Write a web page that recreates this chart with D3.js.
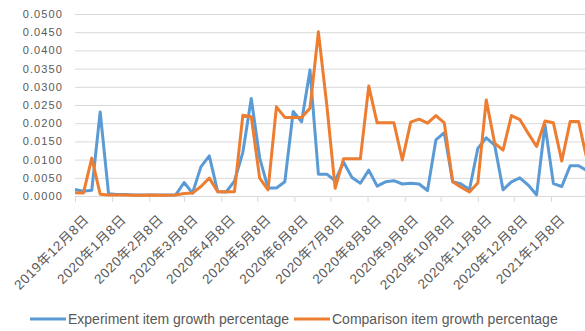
<!DOCTYPE html>
<html>
<head>
<meta charset="utf-8">
<script src="https://cdn.jsdelivr.net/npm/d3@7"></script>
<style>
	body { margin: 0; background: #fff; }
	text { font-family: "Liberation Sans", "Noto Sans CJK SC", sans-serif; fill: #595959; }
</style>
</head>
<body>
<svg class="chart"></svg>
<script>
var weeks = ["2019-12-08","2019-12-15","2019-12-22","2019-12-29","2020-01-05","2020-01-12","2020-01-19","2020-01-26",
	"2020-02-02","2020-02-09","2020-02-16","2020-02-23","2020-03-01","2020-03-08","2020-03-15","2020-03-22",
	"2020-03-29","2020-04-05","2020-04-12","2020-04-19","2020-04-26","2020-05-03","2020-05-10","2020-05-17",
	"2020-05-24","2020-05-31","2020-06-07","2020-06-14","2020-06-21","2020-06-28","2020-07-05","2020-07-12",
	"2020-07-19","2020-07-26","2020-08-02","2020-08-09","2020-08-16","2020-08-23","2020-08-30","2020-09-06",
	"2020-09-13","2020-09-20","2020-09-27","2020-10-04","2020-10-11","2020-10-18","2020-10-25","2020-11-01",
	"2020-11-08","2020-11-15","2020-11-22","2020-11-29","2020-12-06","2020-12-13","2020-12-20","2020-12-27",
	"2021-01-03","2021-01-10","2021-01-17","2021-01-24","2021-01-31","2021-02-07"];

var experiment = [0.0018,0.0013,0.0016,0.0231,0.0006,0.0004,0.0004,0.0003,
	0.0003,0.0003,0.0003,0.0003,0.0003,0.0037,0.0008,0.0080,
	0.0110,0.0012,0.0011,0.0041,0.0120,0.0268,0.0105,0.0022,
	0.0022,0.0039,0.0232,0.0204,0.0346,0.0060,0.0060,0.0042,
	0.0093,0.0051,0.0035,0.0071,0.0027,0.0039,0.0042,0.0033,
	0.0035,0.0033,0.0015,0.0154,0.0174,0.0039,0.0033,0.0018,
	0.0131,0.0160,0.0140,0.0017,0.0039,0.0050,0.0030,0.0003,
	0.0195,0.0034,0.0026,0.0083,0.0083,0.0070];

var comparison = [0.0009,0.0008,0.0104,0.0005,0.0003,0.0003,0.0003,0.0002,
	0.0002,0.0003,0.0002,0.0002,0.0003,0.0007,0.0008,0.0026,
	0.0049,0.0012,0.0012,0.0012,0.0222,0.0218,0.0049,0.0017,
	0.0245,0.0216,0.0216,0.0216,0.0241,0.0451,0.0250,0.0021,
	0.0102,0.0102,0.0102,0.0302,0.0201,0.0201,0.0201,0.0099,
	0.0203,0.0211,0.0200,0.0221,0.0201,0.0039,0.0024,0.0011,
	0.0036,0.0264,0.0145,0.0126,0.0221,0.0210,0.0172,0.0136,
	0.0206,0.0201,0.0096,0.0205,0.0205,0.0100];

var tickDates = ["2019-12-08","2020-01-08","2020-02-08","2020-03-08","2020-04-08","2020-05-08","2020-06-08",
	"2020-07-08","2020-08-08","2020-09-08","2020-10-08","2020-11-08","2020-12-08","2021-01-08"];
var tickLabels = ["2019年12月8日","2020年1月8日","2020年2月8日","2020年3月8日","2020年4月8日","2020年5月8日","2020年6月8日",
	"2020年7月8日","2020年8月8日","2020年9月8日","2020年10月8日","2020年11月8日","2020年12月8日","2021年1月8日"];
var yTicks = [0, 0.005, 0.01, 0.015, 0.02, 0.025, 0.03, 0.035, 0.04, 0.045, 0.05];

var seriesNames = ["Experiment item growth percentage", "Comparison item growth percentage"];
var colors = ["#5b9bd5", "#ed7d31"];

var width = 585,
	height = 331,
	plotLeft = 75,
	plotTop = 14,
	plotBottom = 196;

var parse = d3.timeParse("%Y-%m-%d");

var x = d3.scaleTime()
	.domain([parse(tickDates[0]), parse(tickDates[tickDates.length - 1])])
	.range([plotLeft, 551]);

var y = d3.scaleLinear()
	.domain([0, 0.05])
	.range([plotBottom, plotTop]);

var chart = d3.select(".chart")
	.attr("width", width)
	.attr("height", height);

// gridlines
chart.append("g")
	.attr("class", "grid")
	.attr("transform", "translate(" + plotLeft + ",0)")
	.call(d3.axisLeft(y).tickValues(yTicks).tickSize(-(width - plotLeft)).tickFormat(""))
	.call(function(g) {
		g.select(".domain").remove();
		g.selectAll("line").attr("stroke", "#d9d9d9").attr("stroke-width", 1);
	});

// y labels
chart.append("g")
	.attr("transform", "translate(" + (plotLeft - 12) + ",0)")
	.call(d3.axisLeft(y).tickValues(yTicks).tickSize(0).tickFormat(d3.format(".4f")))
	.call(function(g) {
		g.select(".domain").remove();
		g.selectAll("text")
			.attr("x", 0)
			.style("font-size", "11px")
			.style("letter-spacing", "1.1px")
			.style("fill", "#595959");
	});

// x axis
chart.append("g")
	.attr("transform", "translate(0," + plotBottom + ")")
	.call(d3.axisBottom(x)
		.tickValues(tickDates.map(parse))
		.tickSize(6)
		.tickFormat(function(d, i) { return tickLabels[i]; }))
	.call(function(g) {
		g.select(".domain").attr("stroke", "#d9d9d9").attr("d", "M" + plotLeft + ",0.5H" + width);
		g.selectAll("line").attr("stroke", "#d9d9d9");
		g.selectAll("text")
			.attr("text-anchor", "end")
			.attr("y", 0)
			.attr("dy", "0.35em")
			.attr("transform", "translate(11,21) rotate(-45)")
			.style("font-size", "13.5px")
			.style("letter-spacing", "0.6px")
			.style("fill", "#595959");
	});

var line = d3.line()
	.x(function(d) { return x(d.date); })
	.y(function(d) { return y(d.value); });

[experiment, comparison].forEach(function(values, k) {
	var data = values.map(function(v, i) { return { date: parse(weeks[i]), value: v }; });
	chart.append("path")
		.datum(data)
		.attr("fill", "none")
		.attr("stroke", colors[k])
		.attr("stroke-width", 3)
		.attr("stroke-linejoin", "round")
		.attr("d", line);
});

// legend
var legendX = [30, 294];
var legend = chart.selectAll(".legend")
	.data(seriesNames)
  .enter().append("g")
	.attr("class", "legend")
	.attr("transform", function(d, i) { return "translate(" + legendX[i] + ",319)"; });

legend.append("line")
	.attr("x1", 0)
	.attr("x2", 36)
	.attr("stroke", function(d, i) { return colors[i]; })
	.attr("stroke-width", 3);

legend.append("text")
	.attr("x", 38)
	.attr("dy", "0.35em")
	.style("font-size", "14px")
	.text(function(d) { return d; });
</script>
</body>
</html>
